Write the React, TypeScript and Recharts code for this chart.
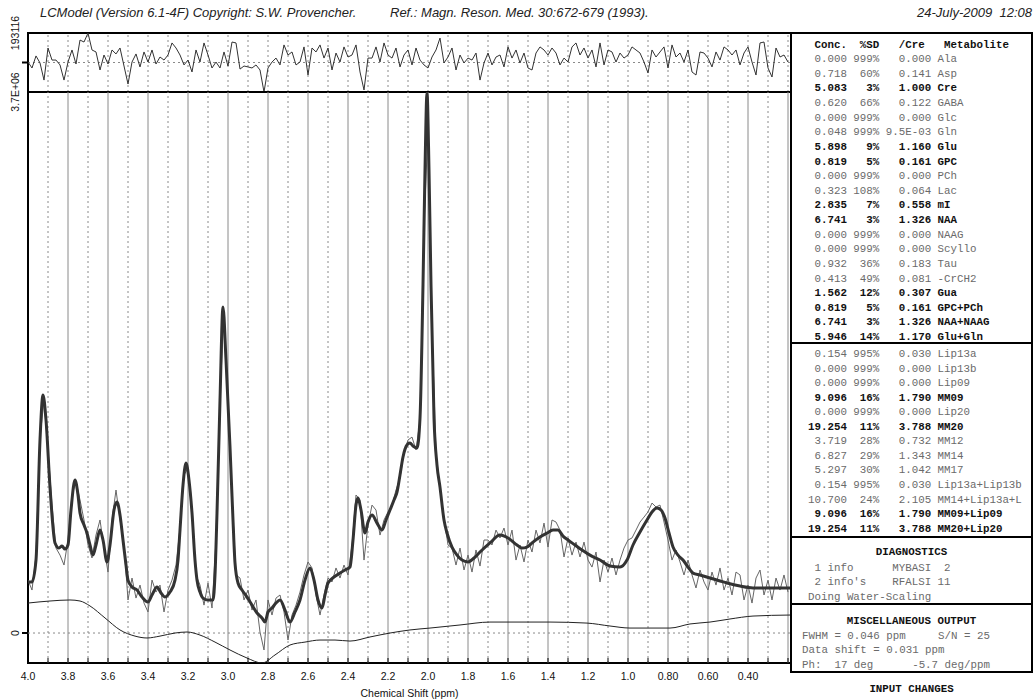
import React from 'react';
import { ComposedChart, Line, XAxis, YAxis, ReferenceLine, ReferenceArea } from 'recharts';

// ---------- spectrum sampling grid (ppm) shared by data and residual ----------
const gridPpm = [
  4.00, 3.98, 3.96, 3.94, 3.92, 3.90, 3.88, 3.86, 3.84, 3.82,
  3.80, 3.78, 3.76, 3.74, 3.72, 3.70, 3.68, 3.66, 3.64, 3.62,
  3.60, 3.58, 3.56, 3.54, 3.52, 3.50, 3.48, 3.46, 3.44, 3.42,
  3.40, 3.38, 3.36, 3.34, 3.32, 3.30, 3.28, 3.26, 3.24, 3.22,
  3.20, 3.18, 3.16, 3.14, 3.12, 3.10, 3.08, 3.06, 3.04, 3.02,
  3.00, 2.98, 2.96, 2.94, 2.92, 2.90, 2.88, 2.86, 2.84, 2.82,
  2.80, 2.78, 2.76, 2.74, 2.72, 2.70, 2.68, 2.66, 2.64, 2.62,
  2.60, 2.58, 2.56, 2.54, 2.52, 2.50, 2.48, 2.46, 2.44, 2.42,
  2.40, 2.38, 2.36, 2.34, 2.32, 2.30, 2.28, 2.26, 2.24, 2.22,
  2.20, 2.18, 2.16, 2.14, 2.12, 2.10, 2.08, 2.06, 2.04, 2.02,
  2.00, 1.98, 1.96, 1.94, 1.92, 1.90, 1.88, 1.86, 1.84, 1.82,
  1.80, 1.78, 1.76, 1.74, 1.72, 1.70, 1.68, 1.66, 1.64, 1.62,
  1.60, 1.58, 1.56, 1.54, 1.52, 1.50, 1.48, 1.46, 1.44, 1.42,
  1.40, 1.38, 1.36, 1.34, 1.32, 1.30, 1.28, 1.26, 1.24, 1.22,
  1.20, 1.18, 1.16, 1.14, 1.12, 1.10, 1.08, 1.06, 1.04, 1.02,
  1.00, 0.98, 0.96, 0.94, 0.92, 0.90, 0.88, 0.86, 0.84, 0.82,
  0.80, 0.78, 0.76, 0.74, 0.72, 0.70, 0.68, 0.66, 0.64, 0.62,
  0.60, 0.58, 0.56, 0.54, 0.52, 0.50, 0.48, 0.46, 0.44, 0.42,
  0.40, 0.38, 0.36, 0.34, 0.32, 0.30, 0.28, 0.26, 0.24, 0.22,
  0.20,
];

// measured spectrum (thousands of counts)
const dataAmp = [
  362, 294, 533, 1334, 1594, 1252, 875, 581, 533, 465,
  636, 944, 1033, 910, 773, 602, 513, 670, 773, 581,
  417, 773, 978, 773, 602, 226, 376, 239, 328, 205,
  144, 362, 280, 328, 144, 294, 362, 465, 718, 1081,
  1128, 807, 397, 328, 191, 342, 171, 636, 1607, 2195,
  1594, 944, 397, 376, 226, 294, 157, 226, 7, -116,
  226, 123, 239, 260, 144, -48, 123, 191, 280, 397,
  486, 445, 260, 123, 260, 376, 349, 445, 376, 465,
  397, 602, 944, 910, 499, 739, 875, 841, 670, 773,
  828, 875, 978, 1060, 1238, 1320, 1340, 1252, 1457, 2790,
  3440, 2072, 1238, 978, 786, 602, 581, 465, 581, 431,
  533, 417, 568, 458, 636, 636, 602, 704, 650, 718,
  602, 704, 499, 602, 486, 636, 554, 704, 616, 752,
  588, 773, 759, 704, 520, 650, 533, 622, 520, 622,
  499, 451, 554, 349, 499, 417, 513, 397, 499, 581,
  636, 650, 704, 759, 793, 828, 889, 862, 875, 759,
  636, 499, 568, 486, 397, 499, 397, 308, 431, 349,
  294, 417, 328, 445, 294, 376, 260, 417, 397, 226,
  328, 205, 376, 431, 260, 362, 226, 376, 294, 397,
  280,
];

// residual (thousands of counts)
const residAmp = [
  3, -36, 43, -3, -115, 95, 16, 16, -16, -115,
  3, 82, -10, 147, 134, 193, 82, 69, -49, 49,
  -10, 82, 56, 95, -23, -141, 3, 56, -29, 69,
  3, 82, -10, 36, 16, 49, 128, 95, 49, -16,
  16, -62, 82, 3, 128, 49, -36, 3, -36, 69,
  -23, 134, 128, -43, -23, -29, -36, -16, -49, -193,
  -36, 3, 29, -16, 115, 49, 69, -16, 3, 102,
  -82, 95, 69, 115, 29, 95, -49, 62, 3, 102,
  36, 49, 115, -62, -180, 29, 29, 102, 3, 128,
  49, 29, 95, -29, 49, 82, -16, 95, 16, -16,
  -36, 36, 82, 160, -3, 36, 95, -49, 49, -3,
  29, 16, 62, -115, -3, 62, -16, 36, 49, -29,
  102, 29, 82, -3, 62, -36, -49, 62, 102, 82,
  49, 95, 62, -16, 29, 3, 102, 128, 49, 95,
  29, 82, -29, 128, -16, 82, 69, 3, 62, 29,
  49, 102, 82, 62, 3, -69, 82, 36, 69, 102,
  -36, 115, 36, 62, 3, 82, -62, -82, 69, 62,
  29, -29, 69, 16, 102, 82, 49, 82, -16, 62,
  102, 3, -82, 128, 134, -36, -95, 95, 36, 49,
  3,
];

// LCModel fit
const fitPpm = [
  4.000, 3.980, 3.960, 3.940, 3.925, 3.910, 3.890, 3.865, 3.845, 3.830,
  3.815, 3.800, 3.785, 3.765, 3.750, 3.740, 3.720, 3.705, 3.690, 3.675,
  3.660, 3.640, 3.625, 3.605, 3.590, 3.570, 3.555, 3.540, 3.525, 3.510,
  3.500, 3.480, 3.455, 3.430, 3.400, 3.380, 3.355, 3.335, 3.315, 3.290,
  3.265, 3.250, 3.240, 3.225, 3.210, 3.195, 3.180, 3.165, 3.155, 3.140,
  3.125, 3.100, 3.075, 3.065, 3.055, 3.040, 3.025, 3.010, 2.990, 2.975,
  2.965, 2.950, 2.930, 2.905, 2.880, 2.855, 2.830, 2.815, 2.800, 2.780,
  2.760, 2.740, 2.715, 2.690, 2.665, 2.640, 2.615, 2.590, 2.570, 2.550,
  2.530, 2.515, 2.500, 2.470, 2.440, 2.415, 2.390, 2.375, 2.360, 2.350,
  2.335, 2.315, 2.300, 2.280, 2.255, 2.230, 2.210, 2.190, 2.170, 2.155,
  2.140, 2.125, 2.105, 2.090, 2.075, 2.055, 2.040, 2.025, 2.015, 2.005,
  1.995, 1.985, 1.970, 1.955, 1.940, 1.920, 1.905, 1.880, 1.855, 1.830,
  1.800, 1.770, 1.740, 1.690, 1.640, 1.600, 1.555, 1.530, 1.505, 1.475,
  1.440, 1.405, 1.375, 1.350, 1.325, 1.300, 1.265, 1.230, 1.190, 1.140,
  1.090, 1.040, 1.005, 0.975, 0.940, 0.905, 0.880, 0.855, 0.835, 0.815,
  0.795, 0.775, 0.750, 0.725, 0.700, 0.675, 0.640, 0.590, 0.540, 0.505,
  0.440, 0.375, 0.315, 0.275, 0.190,
];
const fitAmp = [
  349, 349, 499, 1320, 1628, 1457, 998, 616, 581, 595,
  574, 602, 841, 1046, 944, 821, 739, 684, 602, 533,
  602, 704, 636, 486, 602, 841, 896, 807, 636, 465,
  362, 315, 294, 246, 212, 260, 315, 274, 246, 280,
  362, 499, 704, 1012, 1163, 1046, 821, 499, 362, 280,
  239, 226, 226, 397, 821, 1593, 2230, 1867, 1272, 773,
  479, 342, 294, 246, 191, 137, 103, 75, 144, 171,
  205, 226, 157, 75, 144, 226, 362, 445, 362, 226,
  171, 260, 342, 383, 410, 431, 451, 636, 875, 923,
  841, 684, 759, 807, 752, 704, 773, 841, 910, 964,
  1081, 1204, 1286, 1299, 1279, 1265, 1470, 2380, 3166, 3693,
  3166, 2380, 1470, 1149, 998, 773, 684, 588, 533, 499,
  486, 513, 554, 616, 670, 650, 602, 581, 588, 622,
  657, 684, 704, 704, 663, 636, 602, 568, 533, 499,
  458, 451, 499, 602, 691, 773, 828, 855, 841, 786,
  684, 588, 533, 499, 451, 410, 397, 376, 356, 342,
  321, 308, 308, 308, 308,
];

// baseline
const basePpm = [
  4.000, 3.890, 3.790, 3.740, 3.690, 3.615, 3.540, 3.465, 3.405, 3.340,
  3.265, 3.205, 3.140, 3.065, 2.990, 2.905, 2.830, 2.765, 2.690, 2.615,
  2.540, 2.465, 2.390, 2.290, 2.190, 2.090, 1.990, 1.840, 1.690, 1.540,
  1.390, 1.205, 1.090, 0.990, 0.890, 0.790, 0.690, 0.590, 0.490, 0.375,
  0.190,
];
const baseAmp = [
  205, 219, 226, 219, 185, 103, 21, -21, -34, -21,
  0, 7, -14, -62, -116, -171, -205, -150, -82, -62,
  -48, -48, -55, -27, 0, 21, 34, 55, 75, 75,
  75, 68, 48, 34, 34, 34, 62, 75, 96, 116,
  123,
];

// axis ticks / labels / grid
const ppmTicks = [4.0, 3.9, 3.8, 3.7, 3.6, 3.5, 3.4, 3.3, 3.2, 3.1, 3.0, 2.9, 2.8, 2.7, 2.6, 2.5, 2.4, 2.3, 2.2, 2.1,
  2.0, 1.9, 1.8, 1.7, 1.6, 1.5, 1.4, 1.3, 1.2, 1.1, 1.0, 0.9, 0.8, 0.7, 0.6, 0.5, 0.4, 0.3, 0.2];
const ppmLabels = ['4.0', '3.8', '3.6', '3.4', '3.2', '3.0', '2.8', '2.6', '2.4', '2.2', '2.0', '1.8', '1.6', '1.4',
  '1.2', '1.0', '0.80', '0.60', '0.40'];
const solidGrid = [3.8, 3.6, 3.4, 3.2, 3.0, 2.8, 2.6, 2.4, 2.2, 2.0, 1.8, 1.6, 1.4, 1.2, 1.0, 0.8, 0.6, 0.4, 0.2];
const dottedGrid = [3.9, 3.7, 3.5, 3.3, 3.1, 2.9, 2.7, 2.5, 2.3, 2.1, 1.9, 1.7, 1.5, 1.3, 1.1, 0.9, 0.7, 0.5, 0.3];

const PPM_DOMAIN: [number, number] = [0.185, 4.0];
const SPEC_DOMAIN: [number, number] = [-205, 3700];
const SPEC_TICKS = [0, 3700];
const RES_DOMAIN: [number, number] = [-193.116, 193.116];
const RES_TICKS = [0, 193.116];

// ---------- results table ----------
const names1 = ['Ala', 'Asp', 'Cre', 'GABA', 'Glc', 'Gln', 'Glu', 'GPC', 'PCh', 'Lac', 'mI', 'NAA', 'NAAG', 'Scyllo',
  'Tau', '-CrCH2', 'Gua', 'GPC+PCh', 'NAA+NAAG', 'Glu+Gln'];
const conc1 = ['0.000', '0.718', '5.083', '0.620', '0.000', '0.048', '5.898', '0.819', '0.000', '0.323', '2.835', '6.741',
  '0.000', '0.000', '0.932', '0.413', '1.562', '0.819', '6.741', '5.946'];
const sd1 = [999, 60, 3, 66, 999, 999, 9, 5, 999, 108, 7, 3, 999, 999, 36, 49, 12, 5, 3, 14];
const cre1 = ['0.000', '0.141', '1.000', '0.122', '0.000', '9.5E-03', '1.160', '0.161', '0.000', '0.064', '0.558', '1.326',
  '0.000', '0.000', '0.183', '0.081', '0.307', '0.161', '1.326', '1.170'];

const names2 = ['Lip13a', 'Lip13b', 'Lip09', 'MM09', 'Lip20', 'MM20', 'MM12', 'MM14', 'MM17', 'Lip13a+Lip13b',
  'MM14+Lip13a+L', 'MM09+Lip09', 'MM20+Lip20'];
const conc2 = ['0.154', '0.000', '0.000', '9.096', '0.000', '19.254', '3.719', '6.827', '5.297', '0.154', '10.700',
  '9.096', '19.254'];
const sd2 = [995, 999, 999, 16, 999, 11, 28, 29, 30, 995, 24, 16, 11];
const cre2 = ['0.030', '0.000', '0.000', '1.790', '0.000', '3.788', '0.732', '1.343', '1.042', '0.030', '2.105', '1.790',
  '3.788'];

const diagLines = [' 1 info      MYBASI  2', " 2 info's    RFALSI 11", 'Doing Water-Scaling'];
const miscLines = ['FWHM = 0.046 ppm     S/N = 25', 'Data shift = 0.031 ppm', 'Ph:  17 deg      -5.7 deg/ppm'];

const dataRows = gridPpm.map((p, i) => ({ ppm: p, amp: dataAmp[i] }));
const residRows = gridPpm.map((p, i) => ({ ppm: p, amp: residAmp[i] }));
const fitRows = fitPpm.map((p, i) => ({ ppm: p, amp: fitAmp[i] }));
const baseRows = basePpm.map((p, i) => ({ ppm: p, amp: baseAmp[i] }));

const SANS = '"Liberation Sans", Arial, Helvetica, sans-serif';
const MONO = '"Liberation Mono", "Courier New", monospace';
const GRID = '#8a8a8a';

const expLabel = (v: number) => {
  const s = (v * 1000).toExponential(1);
  const [m, e] = s.split('e');
  return `${m}E${e[0]}${e.slice(1).padStart(2, '0')}`;
};

const XTick = (props: any) => {
  const { x, y, payload } = props;
  const v = payload.value as number;
  const lab = ppmLabels.find((l) => Math.abs(parseFloat(l) - v) < 1e-6);
  return (
    <g>
      <line x1={x} x2={x} y1={y} y2={y - 5} stroke="#000" strokeWidth={1} />
      {lab && (
        <text x={x} y={y + 17} textAnchor="middle" fontSize={10.5} fontFamily={SANS} fill="#111">
          {lab}
        </text>
      )}
    </g>
  );
};

const SpecYTick = (props: any) => {
  const { x, y, payload } = props;
  const v = payload.value as number;
  const label = v === 0 ? '0' : expLabel(v);
  return (
    <g>
      {v === 0 && <line x1={x - 6} x2={x} y1={y} y2={y} stroke="#000" strokeWidth={2} />}
      <text transform={`translate(${x - 13},${y}) rotate(-90)`} textAnchor="middle" dominantBaseline="central"
        fontSize={10.5} fontFamily={SANS} fill="#111">{label}</text>
    </g>
  );
};

const ResYTick = (props: any) => {
  const { x, y, payload } = props;
  const v = payload.value as number;
  if (v === 0) return <line x1={x - 6} x2={x} y1={y} y2={y} stroke="#000" strokeWidth={2} />;
  return (
    <text transform={`translate(${x - 13},${y}) rotate(-90)`} textAnchor="middle" dominantBaseline="central"
      fontSize={10.5} fontFamily={SANS} fill="#111">{String(Math.round(v * 1000))}</text>
  );
};

const rowStr = (c: string, s: number, r: string, n: string) =>
  c.padStart(6) + ' ' + (s + '%').padStart(4) + r.padStart(8) + ' ' + n;

const Txt = ({ cy, left, text, bold, gray, center }: any) => (
  <div
    style={{
      position: 'absolute',
      top: cy - 8,
      left: center ? 791 : left,
      width: center ? 241 : undefined,
      textAlign: center ? 'center' : 'left',
      height: 16,
      lineHeight: '16px',
      fontFamily: MONO,
      fontSize: 10.8,
      fontWeight: bold ? 'bold' : 'normal',
      color: gray ? '#6a6a6a' : '#111',
      whiteSpace: 'pre',
    }}
  >
    {text}
  </div>
);

const headStyle: React.CSSProperties = {
  position: 'absolute', top: 5, fontSize: 13, fontStyle: 'italic', color: '#222', whiteSpace: 'pre',
};

export default function App() {
  const ROW = 14.63;
  return (
    <div style={{ position: 'absolute', left: 0, top: 0, width: 1034, height: 699, background: '#fff', overflow: 'hidden', fontFamily: SANS }}>
      {/* header */}
      <div style={{ ...headStyle, left: 40 }}>LCModel (Version 6.1-4F) Copyright: S.W. Provencher.</div>
      <div style={{ ...headStyle, left: 390 }}>Ref.: Magn. Reson. Med. 30:672-679 (1993).</div>
      <div style={{ ...headStyle, right: 2 }}>24-July-2009  12:08</div>

      {/* residual strip */}
      <div style={{ position: 'absolute', left: 0, top: 0 }}>
        <ComposedChart width={800} height={92} margin={{ top: 33, right: 9, bottom: 0, left: 0 }}>
          <XAxis type="number" dataKey="ppm" domain={PPM_DOMAIN} reversed allowDataOverflow hide />
          <YAxis type="number" domain={RES_DOMAIN} ticks={RES_TICKS} interval={0} allowDataOverflow width={28}
            tickSize={0} tickMargin={0} axisLine={false} tickLine={false} tick={<ResYTick />} />
          {[...solidGrid, ...dottedGrid].map((v) => (
            <ReferenceLine key={'r' + v} x={v} stroke={GRID} strokeDasharray="2 3" strokeWidth={1} />
          ))}
          <ReferenceLine y={0} stroke={GRID} strokeDasharray="2 3" strokeWidth={1} />
          <Line data={residRows} dataKey="amp" type="linear" stroke="#333" strokeWidth={1} dot={false} isAnimationActive={false} />
          <ReferenceArea x1={PPM_DOMAIN[0]} x2={PPM_DOMAIN[1]} y1={RES_DOMAIN[0]} y2={RES_DOMAIN[1]} fill="none" fillOpacity={0}
            stroke="#000" strokeWidth={2} ifOverflow="visible" />
        </ComposedChart>
      </div>

      {/* main spectrum */}
      <div style={{ position: 'absolute', left: 0, top: 60 }}>
        <ComposedChart width={800} height={639} margin={{ top: 32, right: 9, bottom: 0, left: 0 }}>
          <XAxis type="number" dataKey="ppm" domain={PPM_DOMAIN} reversed allowDataOverflow ticks={ppmTicks} interval={0}
            height={36} tickSize={0} tickMargin={0} axisLine={false} tickLine={false} tick={<XTick />}
            label={{ value: 'Chemical Shift (ppm)', position: 'insideBottom', offset: 2, fontSize: 10.5, fill: '#111', fontFamily: SANS }} />
          <YAxis type="number" domain={SPEC_DOMAIN} ticks={SPEC_TICKS} interval={0} allowDataOverflow width={28}
            tickSize={0} tickMargin={0} axisLine={false} tickLine={false} tick={<SpecYTick />} />
          {solidGrid.map((v) => (
            <ReferenceLine key={'s' + v} x={v} stroke={GRID} strokeWidth={1} />
          ))}
          {dottedGrid.map((v) => (
            <ReferenceLine key={'d' + v} x={v} stroke={GRID} strokeDasharray="2 3" strokeWidth={1} />
          ))}
          <ReferenceLine y={0} stroke={GRID} strokeDasharray="2 3" strokeWidth={1} />
          <Line data={baseRows} dataKey="amp" type="monotone" stroke="#222" strokeWidth={1} dot={false} isAnimationActive={false} />
          <Line data={dataRows} dataKey="amp" type="linear" stroke="#666" strokeWidth={1} dot={false} isAnimationActive={false} />
          <Line data={fitRows} dataKey="amp" type="monotone" stroke="#333" strokeWidth={3} dot={false} isAnimationActive={false} />
          <ReferenceArea x1={PPM_DOMAIN[0]} x2={PPM_DOMAIN[1]} y1={SPEC_DOMAIN[0]} y2={SPEC_DOMAIN[1]} fill="none" fillOpacity={0}
            stroke="#000" strokeWidth={2} ifOverflow="visible" />
        </ComposedChart>
      </div>

      {/* results table frame */}
      <div style={{ position: 'absolute', left: 790, top: 32, width: 243, height: 641, border: '2px solid #000', boxSizing: 'border-box' }} />
      <div style={{ position: 'absolute', left: 790, top: 342, width: 243, height: 2, background: '#000' }} />
      <div style={{ position: 'absolute', left: 790, top: 536, width: 243, height: 2, background: '#000' }} />
      <div style={{ position: 'absolute', left: 790, top: 603, width: 243, height: 2, background: '#000' }} />

      <Txt cy={44.5} left={808} text={' Conc.  %SD   /Cre   Metabolite'} bold />
      {names1.map((n, i) => (
        <Txt key={n} cy={44.5 + ROW * (i + 1)} left={808} text={rowStr(conc1[i], sd1[i], cre1[i], n)}
          bold={sd1[i] < 20} gray={sd1[i] >= 20} />
      ))}
      {names2.map((n, i) => (
        <Txt key={n} cy={354 + 14.55 * i} left={808} text={rowStr(conc2[i], sd2[i], cre2[i], n)}
          bold={sd2[i] < 20} gray={sd2[i] >= 20} />
      ))}

      <Txt cy={552} center text="DIAGNOSTICS" bold />
      {diagLines.map((t, i) => (
        <Txt key={t} cy={567.5 + 14.6 * i} left={808} text={t} gray />
      ))}
      <Txt cy={621} center text="MISCELLANEOUS OUTPUT" bold />
      {miscLines.map((t, i) => (
        <Txt key={t} cy={635.5 + 14.6 * i} left={802} text={t} gray />
      ))}
      <Txt cy={689} center text="INPUT CHANGES" bold />
    </div>
  );
}
